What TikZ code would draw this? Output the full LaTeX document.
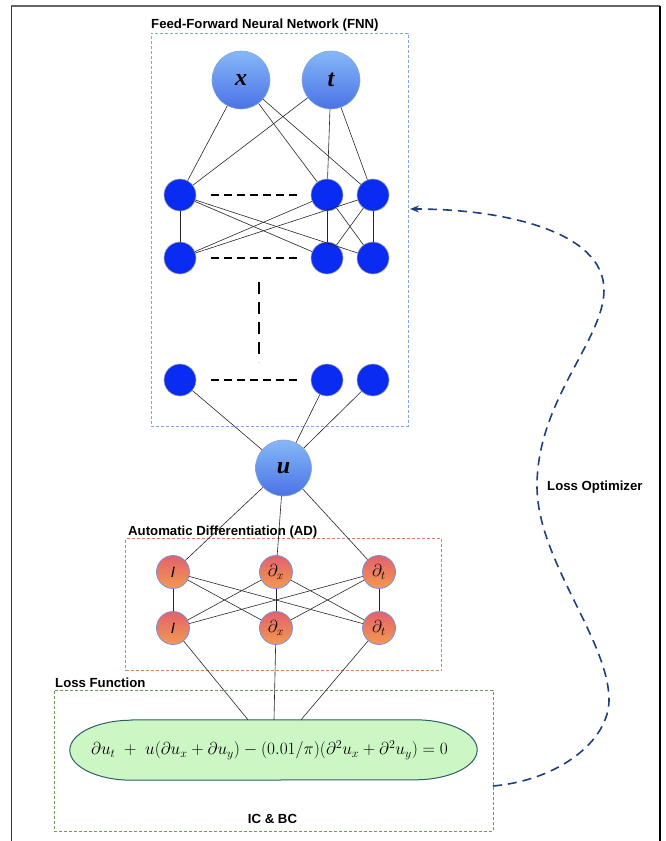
\documentclass[tikz,border=0pt]{standalone}
\usepackage{fontspec}
\setsansfont{Liberation Sans}
\newfontfamily\tnr{Liberation Serif}
\usetikzlibrary{arrows.meta}
\definecolor{hidblue}{HTML}{0A2CF2}
\definecolor{inlight}{HTML}{86B8F7}
\definecolor{indark}{HTML}{4A72E6}
\definecolor{adtop}{HTML}{E2616E}
\definecolor{adbot}{HTML}{F29A4E}
\definecolor{adborder}{HTML}{6F8FE0}
\definecolor{fnnbox}{HTML}{7FA8E3}
\definecolor{adbox}{HTML}{D4825E}
\definecolor{lossbox}{HTML}{6E9A52}
\definecolor{eqfill}{HTML}{CCF7C4}
\definecolor{eqborder}{HTML}{2E5E66}
\definecolor{optcol}{HTML}{1F3E7C}
\tikzset{
  inputnode/.style={circle,minimum size=58pt,inner sep=0pt,top color=inlight,bottom color=indark,draw=inlight!70!gray,line width=0.6pt,font=\fontsize{24}{24}\tnr\bfseries\itshape},
  hidnode/.style={circle,minimum size=32pt,inner sep=0pt,fill=hidblue,draw=gray!70,line width=0.6pt},
  adnode/.style={circle,minimum size=33pt,inner sep=0pt,top color=adtop,bottom color=adbot,draw=adborder,line width=0.7pt,font=\fontsize{18}{18}\selectfont},
  conn/.style={draw=black!85,line width=0.6pt},
  hdash/.style={draw=black,line width=1.8pt,dash pattern=on 8pt off 5pt},
  groupbox/.style={rectangle,inner sep=0pt,dash pattern=on 3pt off 2pt,line width=0.8pt},
  title/.style={font=\fontsize{13.2}{13}\sffamily\bfseries,inner sep=0pt},
}
\begin{document}
\begin{tikzpicture}[x=1pt,y=-1pt]
\useasboundingbox (0,0) rectangle (665,841);
% frame
\draw[gray!80!black,line width=1.6pt] (11,6) -- (660,6);
\draw[black!80,line width=1.4pt] (11.5,6) -- (11.5,841);
\draw[black,line width=1.4pt] (660,6) -- (660,841);

% group boxes
\node[groupbox,draw=fnnbox,minimum width=257pt,minimum height=393pt] (fnn) at (279.5,229.5) {};
\node[groupbox,draw=adbox,minimum width=316pt,minimum height=132pt] (ad) at (283.5,604.5) {};
\node[groupbox,draw=lossbox,minimum width=439pt,minimum height=141pt] (loss) at (273.5,760.5) {};
\node[title,anchor=base west] (fnnt) at (151,28) {Feed-Forward Neural Network (FNN)};
\node[title,anchor=base west] (adt) at (128,535) {Automatic Differentiation (AD)};
\node[title,anchor=base west] (losst) at (55,687) {Loss Function};
\node[title,anchor=base] (icbc) at (272.5,823) {IC \& BC};

% nodes
\node[inputnode] (x) at (241,80) {x};
\node[inputnode] (t) at (331,80) {t};
\node[hidnode] (a1) at (180,195) {};
\node[hidnode] (a2) at (327,195) {};
\node[hidnode] (a3) at (373,195) {};
\node[hidnode] (b1) at (180,258) {};
\node[hidnode] (b2) at (327,258) {};
\node[hidnode] (b3) at (373,258) {};
\node[hidnode] (c1) at (180,380) {};
\node[hidnode] (c2) at (327,380) {};
\node[hidnode] (c3) at (373,380) {};
\node[inputnode,minimum size=56pt] (u) at (283.5,468) {u};
\node[adnode] (i1) at (173,572) {\fontsize{15}{15}\sffamily\itshape I};
\node[adnode] (dx1) at (276,572) {$\partial_x$};
\node[adnode] (dt1) at (379,572) {$\partial_t$};
\node[adnode] (i2) at (173,628) {\fontsize{15}{15}\sffamily\itshape I};
\node[adnode] (dx2) at (276,628) {$\partial_x$};
\node[adnode] (dt2) at (379,628) {$\partial_t$};

% equation stadium
\node[rectangle,inner sep=0pt,minimum width=407pt,minimum height=60pt] (eq) at (273.5,750) {};
\draw[fill=eqfill,draw=eqborder,line width=1pt]
  ([xshift=62pt]eq.north west) -- ([xshift=-62pt]eq.north east)
  arc[start angle=90,end angle=-90,x radius=62pt,y radius=30pt]
  -- ([xshift=62pt]eq.south west)
  arc[start angle=270,end angle=90,x radius=62pt,y radius=30pt] -- cycle;
\node[inner sep=0pt,font=\fontsize{17}{18}\selectfont] (eqtext) at (269.5,750)
  {$\partial u_t\;+\;u(\partial u_x+\partial u_y)-(0.01/\pi)(\partial^2u_x+\partial^2u_y)=0$};

% connectors
\foreach \s in {x,t} \foreach \d in {a1,a2,a3} \draw[conn] (\s) -- (\d);
\foreach \s in {a1,a2,a3} \foreach \d in {b1,b2,b3} \draw[conn] (\s) -- (\d);
\foreach \s in {c1,c2,c3} \draw[conn] (\s) -- (u);
\foreach \d in {i1,dx1,dt1} \draw[conn] (u) -- (\d);
\foreach \s in {i1,dx1,dt1} \foreach \d in {i2,dx2,dt2} \draw[conn] (\s) -- (\d);
\draw[conn] (i2) -- ([xshift=-25.5pt]eq.north);
\draw[conn] (dx2) -- ([xshift=0.5pt]eq.north);
\draw[conn] (dt2) -- ([xshift=27.5pt]eq.north);

% dashed ellipsis lines
\coordinate (d1s) at (211,195); \coordinate (d1e) at (298,195);
\coordinate (d2s) at (211,258); \coordinate (d2e) at (298,258);
\coordinate (d3s) at (211,380); \coordinate (d3e) at (298,380);
\coordinate (vds) at (259,282); \coordinate (vde) at (259,362);
\draw[hdash] (d1s) -- (d1e);
\draw[hdash] (d2s) -- (d2e);
\draw[hdash] (d3s) -- (d3e);
\draw[draw=black,line width=1.8pt,dash pattern=on 12pt off 8pt] (vds) -- (vde);

% loss optimizer
\coordinate (los) at (493,786);
\coordinate (loe) at (410,209);
\draw[optcol,line width=1.6pt,dash pattern=on 9pt off 6pt,-{Stealth[length=9pt,width=7pt]}]
  (los) .. controls (560,780) and (609,740) .. (609,700)
        .. controls (609,640) and (537,560) .. (537,486)
        .. controls (537,400) and (604,340) .. (604,290)
        .. controls (604,230) and (500,209) .. (loe);
\node[title,anchor=base west] (lopt) at (547,490) {Loss Optimizer};
\end{tikzpicture}
\end{document}
